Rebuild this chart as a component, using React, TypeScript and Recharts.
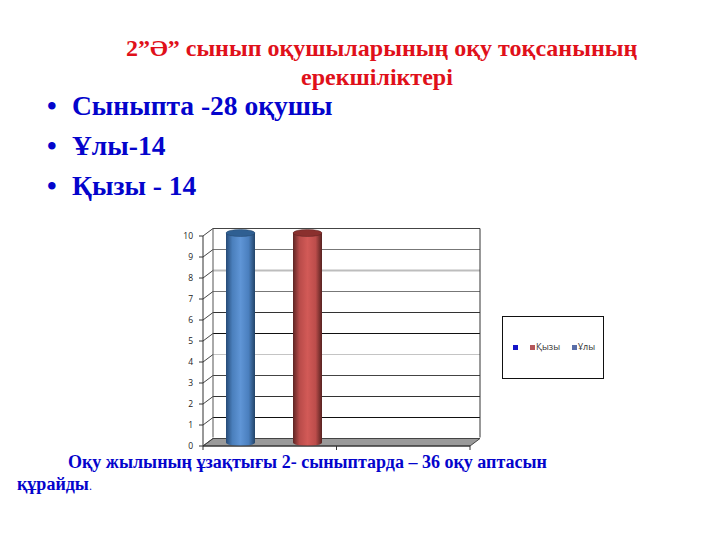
import { BarChart, Bar, XAxis, YAxis, CartesianGrid, Legend } from 'recharts';

const categories = ['', ''];
const boysValues = [10, null];
const girlsValues = [10, null];
const valueTicks = [0, 1, 2, 3, 4, 5, 6, 7, 8, 9, 10];
const legendLabels = ['', 'Қызы', 'Ұлы'];

const titleLines = ['2”Ә” сынып оқушыларының оқу тоқсанының', 'ерекшіліктері'];
const bulletLines = ['Сыныпта -28 оқушы', 'Ұлы-14', 'Қызы - 14'];
const footerFirst = 'Оқу жылының ұзақтығы 2- сыныптарда – 36 оқу аптасын';
const footerSecond = 'құрайды';

const chartData = categories.map((name, i) => ({
  name,
  boys: boysValues[i],
  girls: girlsValues[i],
}));

// 3D look: the back wall sits up and to the right of the front axes
const DEPTH_X = 10;
const DEPTH_Y = 7.5;
const BAND = 133.5;
const BAR_SHIFT = 4;

const gridColors = ['#555', '#111', '#333', '#444', '#c4c4c4', '#111', '#333', '#777', '#bdbdbd', '#777', '#444'];
const gridWidths = [1, 1, 1, 1, 1, 1, 1, 1, 2, 1, 1];
const legendColors = ['#1414c8', '#b5565a', '#5a6ea8'];

const CHART_FONT = '"Open Sans", sans-serif';
const SERIF = '"Liberation Serif", serif';
const TEXT_BLUE = '#0404cc';

const WallLine = (props: any) => {
  const { x1, x2, y1, index } = props;
  const isFloor = index === 0;
  const isTop = index === valueTicks.length - 1;
  const bx1 = x1 + DEPTH_X;
  const bx2 = x2 + DEPTH_X;
  const by = y1 - DEPTH_Y;
  return (
    <g>
      {isFloor && (
        <polygon
          points={`${x1},${y1} ${bx1},${by} ${bx2},${by} ${x2},${y1}`}
          fill="#9a9a9a"
          stroke="#444"
          strokeWidth={1}
        />
      )}
      {!isFloor && <line x1={bx1} x2={bx2} y1={by} y2={by} stroke={gridColors[index]} strokeWidth={gridWidths[index]} />}
      <line x1={x1} x2={bx1} y1={y1} y2={by} stroke="#444" strokeWidth={1} />
      {isTop && (
        <>
          <line x1={bx1} x2={bx1} y1={by} y2={by + 209} stroke="#555" strokeWidth={1} />
          <line x1={bx2} x2={bx2} y1={by} y2={by + 209} stroke="#333" strokeWidth={1} />
        </>
      )}
    </g>
  );
};

const Cylinder = (props: any) => {
  const { x, y, width, height, gradient, capColor, edgeColor } = props;
  if (!height) return null;
  const left = x + BAR_SHIFT;
  const cx = left + width / 2;
  const rx = width / 2;
  const ry = 3.5;
  const top = y - 3;
  const bottom = y + height - 3.5;
  return (
    <g>
      <path
        d={`M${left},${top} L${left},${bottom} A${rx},${ry} 0 0 0 ${left + width},${bottom} L${left + width},${top} Z`}
        fill={`url(#${gradient})`}
      />
      <ellipse cx={cx} cy={top} rx={rx} ry={ry} fill={capColor} stroke={edgeColor} strokeWidth={0.5} />
    </g>
  );
};

const BoundaryTick = (props: any) => {
  const { x, y } = props;
  return (
    <g stroke="#333" strokeWidth={1}>
      <line x1={x - BAND / 2} x2={x - BAND / 2} y1={y - 8} y2={y - 4} />
      <line x1={x + BAND / 2} x2={x + BAND / 2} y1={y - 8} y2={y - 4} />
    </g>
  );
};

const LegendBox = () => (
  <div
    style={{
      boxSizing: 'border-box',
      width: 102,
      height: 63,
      border: '1px solid #111',
      background: '#fff',
      position: 'relative',
      fontFamily: CHART_FONT,
      fontSize: 9,
      color: '#333',
    }}
  >
    {legendLabels.map((label, i) => (
      <span
        key={i}
        style={{
          position: 'absolute',
          left: [10, 27, 69][i],
          top: 25,
          height: 10,
          display: 'flex',
          alignItems: 'center',
          lineHeight: '10px',
        }}
      >
        <span style={{ width: 5, height: 5, background: legendColors[i], marginRight: 1 }} />
        {label}
      </span>
    ))}
  </div>
);

const textLine = (top: number, left: number, size: number, color: string, content: React.ReactNode, key: string) => (
  <div
    key={key}
    style={{
      position: 'absolute',
      top,
      left,
      fontFamily: SERIF,
      fontWeight: 700,
      fontSize: size,
      lineHeight: `${size + 4}px`,
      color,
      whiteSpace: 'nowrap',
    }}
  >
    {content}
  </div>
);

export default function App() {
  return (
    <div style={{ position: 'absolute', left: 0, top: 0, width: 720, height: 540, background: '#fff', overflow: 'hidden' }}>
      {textLine(34, 126, 24, '#e0101a', titleLines[0], 'title0')}
      {textLine(63, 301, 24, '#e0101a', titleLines[1], 'title1')}
      {bulletLines.map((line, i) => (
        <div key={line}>
          {textLine(90 + i * 40, 47, 27.5, TEXT_BLUE, '•', `dot${i}`)}
          {textLine(90 + i * 40, 72, 27.5, TEXT_BLUE, line, `bullet${i}`)}
        </div>
      ))}
      {textLine(451, 68, 18, TEXT_BLUE, footerFirst, 'foot0')}
      {textLine(473, 17, 18, TEXT_BLUE, (
        <>
          {footerSecond}
          <span style={{ fontWeight: 400, fontSize: 12 }}>.</span>
        </>
      ), 'foot1')}

      <div style={{ position: 'absolute', left: 0, top: 0 }}>
        <BarChart
          width={720}
          height={540}
          data={chartData}
          margin={{ top: 236, right: 250, left: 173, bottom: 84 }}
          barSize={29}
          barGap={38}
        >
          <defs>
            <linearGradient id="blueBar" x1="0" y1="0" x2="1" y2="0">
              <stop offset="0%" stopColor="#264a76" />
              <stop offset="22%" stopColor="#4a7fbc" />
              <stop offset="50%" stopColor="#5f95d6" />
              <stop offset="78%" stopColor="#4a7fbe" />
              <stop offset="100%" stopColor="#234468" />
            </linearGradient>
            <linearGradient id="redBar" x1="0" y1="0" x2="1" y2="0">
              <stop offset="0%" stopColor="#5e2524" />
              <stop offset="22%" stopColor="#b84b49" />
              <stop offset="50%" stopColor="#d25a57" />
              <stop offset="78%" stopColor="#bc4d4b" />
              <stop offset="100%" stopColor="#572220" />
            </linearGradient>
          </defs>
          <CartesianGrid vertical={false} horizontal={(p: any) => <WallLine key={p.index} {...p} />} />
          <XAxis dataKey="name" height={10} axisLine={{ stroke: '#333' }} tickLine={false} tick={<BoundaryTick />} interval={0} />
          <YAxis
            width={30}
            domain={[0, 10]}
            ticks={valueTicks}
            interval={0}
            axisLine={{ stroke: '#333' }}
            tickLine={{ stroke: '#333' }}
            tickSize={4}
            tickMargin={6}
            tick={{ fill: '#222', fontSize: 8.5, fontFamily: CHART_FONT }}
          />
          <Bar
            dataKey="boys"
            name="Ұлы"
            isAnimationActive={false}
            legendType="none"
            shape={(p: any) => <Cylinder {...p} gradient="blueBar" capColor="#2f5f92" edgeColor="#234468" />}
          />
          <Bar
            dataKey="girls"
            name="Қызы"
            isAnimationActive={false}
            legendType="none"
            shape={(p: any) => <Cylinder {...p} gradient="redBar" capColor="#8a302e" edgeColor="#572220" />}
          />
          <Legend
            layout="vertical"
            verticalAlign="middle"
            align="center"
            content={<LegendBox />}
            wrapperStyle={{ left: 502, top: 316, width: 102, height: 63 }}
          />
        </BarChart>
      </div>
    </div>
  );
}
